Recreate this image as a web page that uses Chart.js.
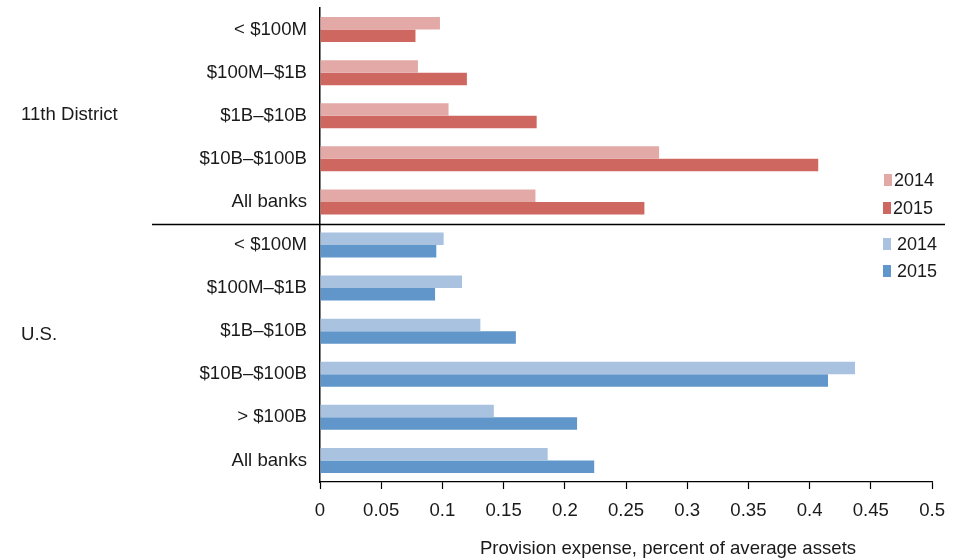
<!DOCTYPE html>
<html>
<head>
<meta charset="utf-8">
<script src="https://cdn.jsdelivr.net/npm/chart.js@4/dist/chart.umd.min.js"></script>
<style>
  body { margin: 0; background: #fff; }
  canvas { display: block; }
</style>
</head>
<body>
<canvas id="chart-area" width="956" height="560"></canvas>
<script>
// categories
var districtLabels = ['< $100M', '$100M\u2013$1B', '$1B\u2013$10B', '$10B\u2013$100B', 'All banks'];
var usLabels = ['< $100M', '$100M\u2013$1B', '$1B\u2013$10B', '$10B\u2013$100B', '> $100B', 'All banks'];
var groupNames = ['11th District', 'U.S.'];
var years = ['2014', '2015'];

// values, percent of average assets
var district2014 = [0.098, 0.080, 0.105, 0.277, 0.176];
var district2015 = [0.078, 0.120, 0.177, 0.407, 0.265];
var us2014 = [0.101, 0.116, 0.131, 0.437, 0.142, 0.186];
var us2015 = [0.095, 0.094, 0.160, 0.415, 0.210, 0.224];

// x ticks
var xMin = 0, xMax = 0.5, xStep = 0.05;
var xTitle = 'Provision expense, percent of average assets';

var redColors = ['#E3A9A7', '#CD675F'];
var blueColors = ['#A8C2E0', '#6196CA'];
var fontFam = '"Liberation Sans", Arial, Helvetica, sans-serif';
var textColor = '#1a1a1a';
var fontSize = 18.6;

var nDistrict = districtLabels.length;

function barColor(yearIdx) {
  return function(ctx) {
    return ctx.dataIndex < nDistrict ? redColors[yearIdx] : blueColors[yearIdx];
  };
}

// extra bits: separator, group names, the two legends, axis title
var extras = {
  id: 'extras',
  afterDraw: function(chart) {
    var c = chart.ctx;
    var yScale = chart.scales.y;
    c.save();
    // separator line between the groups
    var ySep = (yScale.getPixelForValue(nDistrict - 1) + yScale.getPixelForValue(nDistrict)) / 2;
    c.strokeStyle = '#000';
    c.lineWidth = 1.5;
    c.beginPath();
    c.moveTo(152, ySep + 1);
    c.lineTo(945, ySep + 1);
    c.stroke();

    c.font = fontSize + 'px ' + fontFam;
    c.fillStyle = textColor;
    c.textAlign = 'left';
    c.textBaseline = 'middle';
    var midD = (yScale.getPixelForValue(0) + yScale.getPixelForValue(nDistrict - 1)) / 2;
    var midU = (yScale.getPixelForValue(nDistrict) + yScale.getPixelForValue(nDistrict + usLabels.length - 1)) / 2;
    c.fillText(groupNames[0], 21, midD - 1);
    c.fillText(groupNames[1], 21, midU - 18);

    // legends
    c.font = '18px ' + fontFam;
    var legRows = [
      [884, 180, redColors[0], years[0], 894],
      [883, 208, redColors[1], years[1], 893],
      [883, 244, blueColors[0], years[0], 897],
      [883, 271, blueColors[1], years[1], 897]
    ];
    legRows.forEach(function(r) {
      c.fillStyle = r[2];
      c.fillRect(r[0], r[1] - 6, 8, 12);
      c.fillStyle = textColor;
      c.fillText(r[3], r[4], r[1] + 1);
    });

    // axis title
    c.textAlign = 'center';
    c.font = fontSize + 'px ' + fontFam;
    c.fillText(xTitle, 668, 549);
    c.restore();
  }
};

var ctx = document.getElementById('chart-area');
var myChart = new Chart(ctx, {
  type: 'bar',
  data: {
    labels: districtLabels.concat(usLabels),
    datasets: [
      {
        label: years[0],
        data: district2014.concat(us2014),
        backgroundColor: barColor(0),
        borderWidth: 0
      },
      {
        label: years[1],
        data: district2015.concat(us2015),
        backgroundColor: barColor(1),
        borderWidth: 0
      }
    ]
  },
  options: {
    indexAxis: 'y',
    responsive: false,
    animation: false,
    layout: { padding: { top: 8, right: 23, left: 0, bottom: 0 } },
    datasets: { bar: { categoryPercentage: 0.58, barPercentage: 1 } },
    plugins: {
      legend: { display: false },
      tooltip: { enabled: false }
    },
    scales: {
      x: {
        min: xMin,
        max: xMax,
        afterFit: function(scale) { scale.height = 78; },
        grid: { drawOnChartArea: false, drawTicks: true, tickLength: 7, tickColor: '#000', tickWidth: 1.2 },
        border: { display: true, color: '#000', width: 1.2 },
        ticks: {
          stepSize: xStep,
          padding: 11,
          color: textColor,
          font: { size: fontSize, family: fontFam },
          maxRotation: 0,
          autoSkip: false,
          callback: function(v) { return String(Number(v.toFixed(2))); }
        }
      },
      y: {
        afterFit: function(scale) {
          scale.width = 320;
          scale.paddingTop = 0;
          scale.paddingBottom = 0;
        },
        grid: { display: false },
        border: { display: true, color: '#000', width: 1.5 },
        ticks: {
          padding: 5,
          color: textColor,
          font: { size: fontSize, family: fontFam },
          autoSkip: false
        }
      }
    }
  },
  plugins: [extras]
});
</script>
</body>
</html>
